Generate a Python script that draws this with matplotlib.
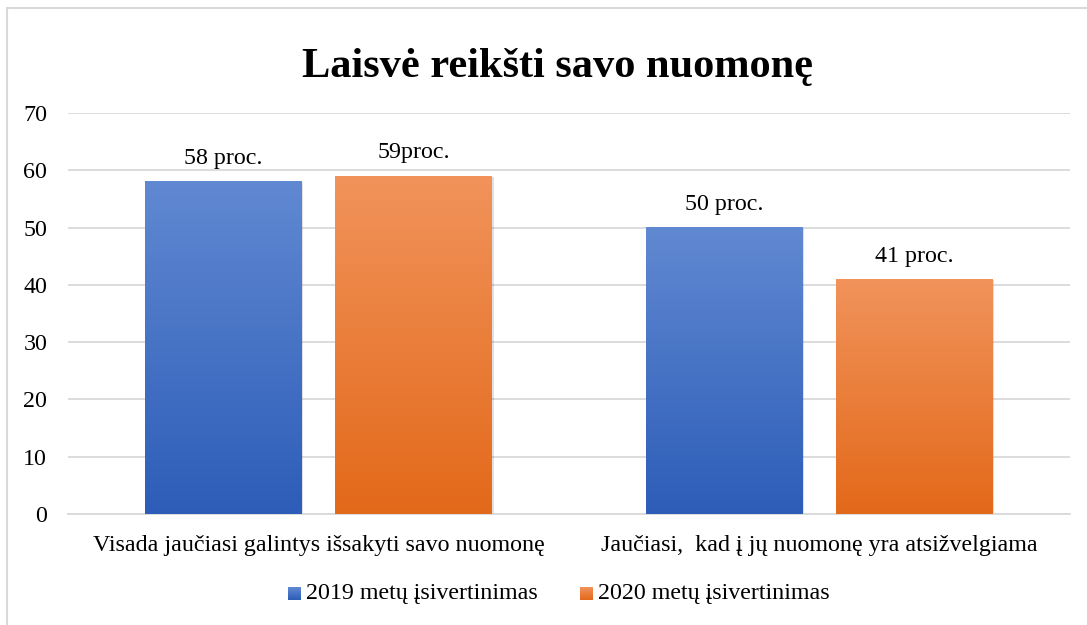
import matplotlib
matplotlib.use("Agg")
import matplotlib.pyplot as plt
import numpy as np
from matplotlib.colors import LinearSegmentedColormap
from matplotlib.patches import Rectangle

plt.rcParams['font.family'] = ['Liberation Serif', 'DejaVu Serif']

categories = ["Visada jaučiasi galintys išsakyti savo nuomonę",
              "Jaučiasi,  kad į jų nuomonę yra atsižvelgiama"]
series_names = ["2019 metų įsivertinimas", "2020 metų įsivertinimas"]
values_2019 = [58, 50]
values_2020 = [59, 41]
labels_2019 = ["58 proc.", "50 proc."]
labels_2020 = ["59proc.", "41 proc."]
yticks = [0, 10, 20, 30, 40, 50, 60, 70]
title = "Laisvė reikšti savo nuomonę"

blue_cmap = LinearSegmentedColormap.from_list("b", ["#2d5db8", "#6189d2"])
orange_cmap = LinearSegmentedColormap.from_list("o", ["#e3691a", "#f1935b"])

FS = 17.3

fig = plt.figure(figsize=(10.87, 6.25), dpi=100)
ax = fig.add_axes([0.0626, 0.1776, 0.9214, 0.6416])

x = np.arange(len(categories))
w = 0.312
off = 0.19

def grad_bars(xs, vals, cmap, lbls):
    bars = ax.bar(xs, vals, width=w, color='none', zorder=3)
    grad = np.linspace(0, 1, 256).reshape(-1, 1)
    for b, lb in zip(bars, lbls):
        x0, y0, bw, bh = b.get_x(), b.get_y(), b.get_width(), b.get_height()
        sh = Rectangle((x0 + 0.004, y0), bw, bh - 0.15, facecolor='#000000',
                       alpha=0.12, zorder=2, linewidth=0)
        ax.add_patch(sh)
        ax.imshow(grad, cmap=cmap, origin='lower', aspect='auto',
                  extent=(x0, x0 + bw, y0, y0 + bh), zorder=3)
        ax.text(x0 + bw / 2, y0 + bh + 2.2, lb, ha='center', va='bottom',
                fontsize=FS, color='#000000')
    return bars

grad_bars(x - off, values_2019, blue_cmap, labels_2019)
grad_bars(x + off, values_2020, orange_cmap, labels_2020)

ax.set_xlim(-0.5, 1.5)
ax.set_ylim(0, 70)
ax.set_yticks(yticks)
ax.set_yticklabels([str(t) for t in yticks], fontsize=FS)
ax.set_xticks(x)
ax.set_xticklabels(categories, fontsize=FS)
ax.tick_params(axis='y', length=0, pad=15)
ax.tick_params(axis='x', length=0, pad=15)
ax.grid(axis='y', color='#d9d9d9', linewidth=1.3, zorder=0)
ax.set_axisbelow(True)
for s in ['top', 'right', 'left']:
    ax.spines[s].set_visible(False)
ax.spines['bottom'].set_color('#d9d9d9')
ax.spines['bottom'].set_linewidth(1.3)

fig.text(0.5125, 0.893, title, ha='center', va='center', fontsize=30.5,
         fontweight='bold')

# legend
lx = [288, 580]
for i, (nm, cm) in enumerate(zip(series_names, [blue_cmap, orange_cmap])):
    lax = fig.add_axes([lx[i] / 1087, 1 - 600 / 625, 13 / 1087, 13 / 625])
    lax.imshow(np.linspace(0, 1, 64).reshape(-1, 1), cmap=cm, origin='lower',
               aspect='auto')
    lax.axis('off')
    fig.text((lx[i] + 18) / 1087, 1 - 594 / 625, nm, ha='left', va='center',
             fontsize=FS)

# frame
fig.patches.append(Rectangle((7 / 1087, -0.1), 1.2, 1 - 8 / 625 + 0.1,
                             transform=fig.transFigure, fill=False,
                             edgecolor='#d9d9d9', linewidth=1.5))

fig.savefig("out.png", dpi=100)
